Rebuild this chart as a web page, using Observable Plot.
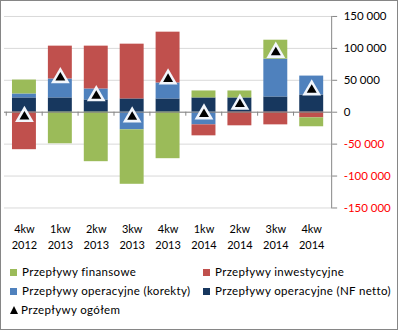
<!DOCTYPE html>
<html><head><meta charset="utf-8">
<script src="https://cdn.jsdelivr.net/npm/d3@7"></script>
<script src="https://cdn.jsdelivr.net/npm/@observablehq/plot@0.6"></script>
<style>
body{margin:0;background:#fff;}
#frame{position:relative;width:398px;height:330px;box-sizing:border-box;border:1px solid #868686;background:#fff;font-family:Lato,sans-serif;overflow:hidden;}
#chart{position:absolute;left:-1px;top:-1px;}
.lg{position:absolute;font-size:11.5px;letter-spacing:0.35px;color:#000;white-space:nowrap;line-height:14px;}
.sw{display:inline-block;width:7px;height:7px;margin-right:5px;vertical-align:0px;}
.tri{display:inline-block;width:0;height:0;border-left:4.5px solid transparent;border-right:4.5px solid transparent;border-bottom:8px solid #000;margin-right:3px;vertical-align:0px;}
</style></head><body>
<div id="frame"><div id="chart"></div><div id="legend"></div></div>
<script>
const quarters = ["4kw 2012","1kw 2013","2kw 2013","3kw 2013","4kw 2013","1kw 2014","2kw 2014","3kw 2014","4kw 2014"];
const nfNetto      = [22400, 22400, 19200, 20800, 20800, 22400, 22400, 23900, 27000];
const korekty      = [6200, 29600, 17200, -27600, 25000, -19800, 0, 59300, 29600];
const inwestycyjne = [-58700, 51500, 67100, 85800, 79600, -17200, -21300, -19800, -8800];
const finansowe    = [21800, -49400, -77500, -85300, -72800, 10900, 10900, 29600, -14000];
const ogolem       = [-7000, 54000, 25500, -7500, 52000, -3000, 12500, 93600, 34800];
const seriesNames = ["Przepływy operacyjne (NF netto)", "Przepływy operacyjne (korekty)", "Przepływy inwestycyjne", "Przepływy finansowe"];
const seriesColors = ["#17375E", "#4F81BD", "#C0504D", "#9BBB59"];
const totalName = "Przepływy ogółem";
const yTicks = [-150000, -100000, -50000, 0, 50000, 100000, 150000];

const seriesValues = [nfNetto, korekty, inwestycyjne, finansowe];
const rows = [];
seriesNames.forEach((s, si) => quarters.forEach((q, qi) => rows.push({q, s, v: seriesValues[si][qi]})));
const totals = quarters.map((q, i) => ({q, v: ogolem[i]}));

const W = 398, H = 252, mL = 4, mR = 66, mT = 16, mB = 44;
const step = (W - mL - mR) / quarters.length;
const pxPerUnit = (H - mT - mB) / (yTicks[yTicks.length-1] - yTicks[0]);
const tickLen = 4 / pxPerUnit;

const loc = d3.formatLocale({decimal: ",", thousands: "\u00a0", grouping: [3], currency: ["", ""], minus: "-"});
const fmt = loc.format(",d");
const lbl = d => d.replace(" ", "\n");

const plot = Plot.plot({
  width: W, height: H,
  marginLeft: mL, marginRight: mR, marginTop: mT, marginBottom: mB,
  style: {fontFamily: "Lato, sans-serif", fontSize: "11px", color: "#000", background: "transparent"},
  x: {domain: quarters, paddingInner: 0.33, paddingOuter: 0.165, axis: null, label: null},
  y: {domain: [yTicks[0], yTicks[yTicks.length-1]], axis: null, label: null},
  color: {domain: seriesNames, range: seriesColors},
  marks: [
    Plot.ruleY(yTicks, {stroke: "#D9D9D9", strokeWidth: 1}),
    Plot.barY(rows, {x: "q", y: "v", fill: "s", z: "s"}),
    Plot.ruleY([0], {stroke: "#868686", strokeWidth: 1}),
    Plot.ruleX(quarters, {x: d => d, dx: -step/2, y1: 0, y2: -tickLen, stroke: "#868686"}),
    Plot.frame({anchor: "right", stroke: "#868686"}),
    Plot.dot(totals, {x: "q", y: "v", symbol: "triangle", r: 7, fill: "#f2f6fc", ariaLabel: "glow"}),
    Plot.dot(totals, {x: "q", y: "v", symbol: "triangle", r: 3.7, fill: "#000"}),
    Plot.axisX({tickSize: 0, tickPadding: 14, tickFormat: lbl, lineHeight: 1.42, fontSize: 11, fill: "#000", label: null}),
    Plot.axisY(yTicks.filter(d => d >= 0), {anchor: "right", tickSize: 5, tickPadding: 7, tickFormat: fmt, fill: "#000", stroke: "#868686", fontSize: 11.5, label: null}),
    Plot.axisY(yTicks.filter(d => d < 0), {anchor: "right", tickSize: 5, tickPadding: 7, tickFormat: fmt, fill: "#FF0000", stroke: "#868686", fontSize: 11.5, label: null})
  ]
});
document.getElementById("chart").appendChild(plot);

const svg = d3.select(plot);
const f = svg.insert("defs", ":first-child").append("filter").attr("id", "glowf")
  .attr("x", "-100%").attr("y", "-100%").attr("width", "300%").attr("height", "300%");
f.append("feGaussianBlur").attr("stdDeviation", 2);
svg.selectAll('g[aria-label="glow"]').attr("filter", "url(#glowf)");

// legend
const legendItems = [
  {name: seriesNames[3], color: seriesColors[3]},
  {name: seriesNames[2], color: seriesColors[2]},
  {name: seriesNames[1], color: seriesColors[1]},
  {name: seriesNames[0], color: seriesColors[0]},
  {name: totalName, color: null}
];
const lg = document.getElementById("legend");
legendItems.forEach((it, i) => {
  const d = document.createElement("div");
  d.className = "lg";
  const col = i % 2, row = Math.floor(i / 2);
  d.style.left = (col ? 202 : 9) + "px";
  d.style.top = (264 + row * 19) + "px";
  const m = document.createElement("span");
  if (it.color) { m.className = "sw"; m.style.background = it.color; } else { m.className = "tri"; }
  d.appendChild(m);
  d.appendChild(document.createTextNode(it.name));
  lg.appendChild(d);
});
</script>
</body></html>
